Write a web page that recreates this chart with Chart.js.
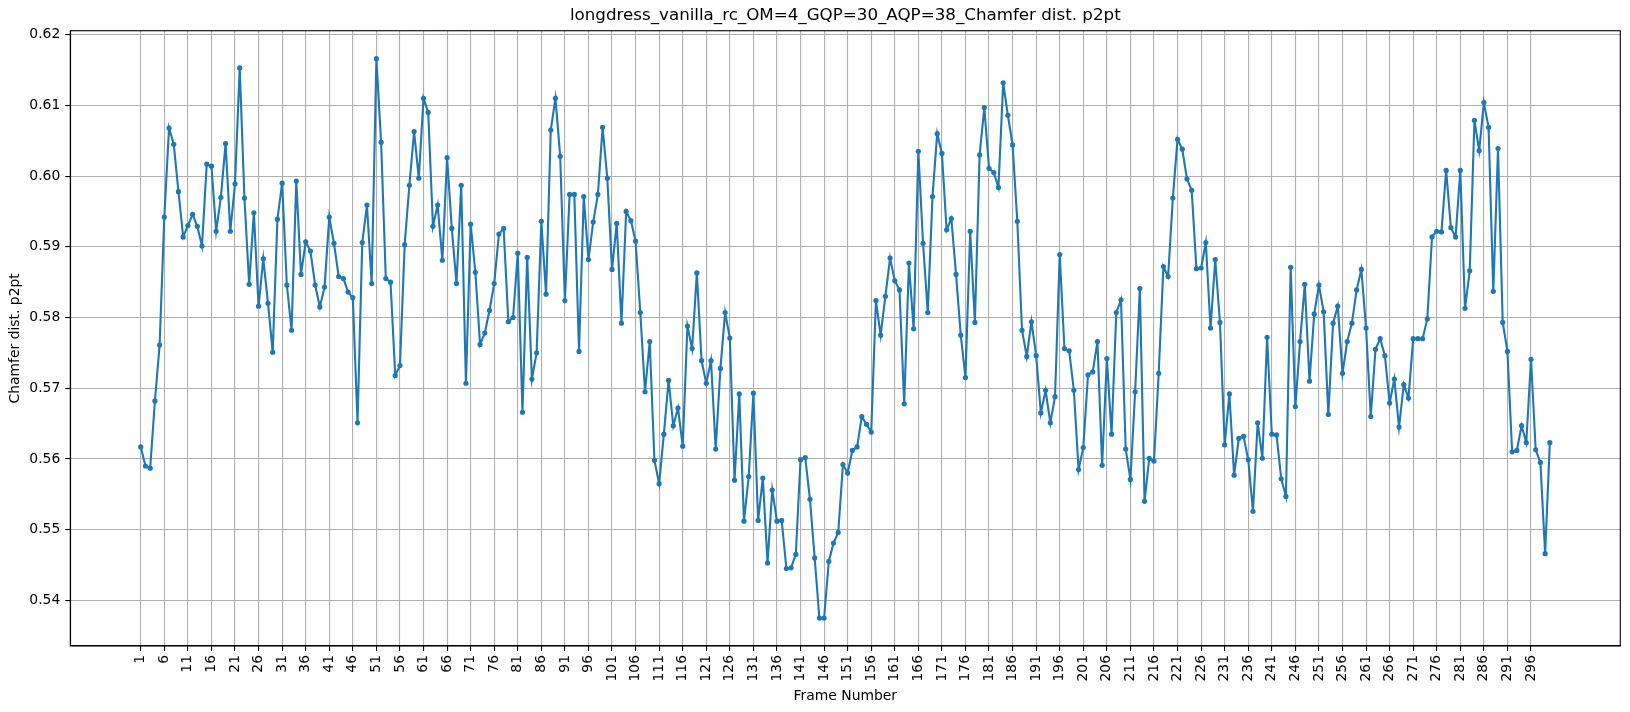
<!DOCTYPE html>
<html>
<head>
<meta charset="utf-8">
<script src="https://cdn.jsdelivr.net/npm/chart.js@4/dist/chart.umd.min.js"></script>
<style>
  html, body { margin: 0; padding: 0; background: #fff; }
  canvas { display: block; }
</style>
</head>
<body>
<canvas id="chamferChart" width="1630" height="712"></canvas>
<script>
// 値
const chartTitle = "longdress_vanilla_rc_OM=4_GQP=30_AQP=38_Chamfer dist. p2pt";

const chamferValues = [
  0.5617, 0.5590, 0.5587, 0.5682, 0.5761, 0.5942, 0.6068, 0.6045, 0.5978, 0.5914,
  0.5930, 0.5946, 0.5929, 0.5901, 0.6017, 0.6014, 0.5922, 0.5970, 0.6046, 0.5922,
  0.5989, 0.6153, 0.5969, 0.5847, 0.5948, 0.5816, 0.5883, 0.5820, 0.5751, 0.5939,
  0.5990, 0.5846, 0.5782, 0.5993, 0.5861, 0.5907, 0.5894, 0.5846, 0.5815, 0.5843,
  0.5942, 0.5905, 0.5858, 0.5855, 0.5836, 0.5828, 0.5651, 0.5906, 0.5959, 0.5848,
  0.6166, 0.6048, 0.5855, 0.5850, 0.5718, 0.5732, 0.5903, 0.5987, 0.6063, 0.5997,
  0.6110, 0.6090, 0.5929, 0.5959, 0.5881, 0.6026, 0.5926, 0.5848, 0.5987, 0.5707,
  0.5932, 0.5864, 0.5762, 0.5778, 0.5810, 0.5848, 0.5918, 0.5926, 0.5794, 0.5800,
  0.5891, 0.5666, 0.5885, 0.5713, 0.5750, 0.5936, 0.5833, 0.6065, 0.6110, 0.6028,
  0.5824, 0.5974, 0.5974, 0.5752, 0.5971, 0.5882, 0.5935, 0.5974, 0.6069, 0.5997,
  0.5868, 0.5933, 0.5792, 0.5950, 0.5937, 0.5908, 0.5807, 0.5695, 0.5766, 0.5598,
  0.5565, 0.5635, 0.5711, 0.5647, 0.5672, 0.5618, 0.5788, 0.5756, 0.5863, 0.5739,
  0.5707, 0.5739, 0.5614, 0.5728, 0.5807, 0.5771, 0.5570, 0.5692, 0.5512, 0.5575,
  0.5693, 0.5513, 0.5573, 0.5453, 0.5556, 0.5512, 0.5513, 0.5445, 0.5446, 0.5465,
  0.5599, 0.5602, 0.5543, 0.5460, 0.5375, 0.5375, 0.5455, 0.5481, 0.5496, 0.5592,
  0.5580, 0.5612, 0.5617, 0.5660, 0.5649, 0.5638, 0.5824, 0.5775, 0.5830, 0.5884,
  0.5852, 0.5839, 0.5678, 0.5877, 0.5784, 0.6035, 0.5905, 0.5807, 0.5971, 0.6060,
  0.6032, 0.5924, 0.5940, 0.5861, 0.5775, 0.5715, 0.5922, 0.5793, 0.6030, 0.6097,
  0.6011, 0.6005, 0.5984, 0.6132, 0.6086, 0.6044, 0.5936, 0.5782, 0.5745, 0.5794,
  0.5746, 0.5665, 0.5697, 0.5651, 0.5688, 0.5889, 0.5756, 0.5753, 0.5697, 0.5585,
  0.5616, 0.5719, 0.5723, 0.5766, 0.5591, 0.5742, 0.5635, 0.5807, 0.5825, 0.5614,
  0.5571, 0.5695, 0.5841, 0.5540, 0.5601, 0.5597, 0.5721, 0.5872, 0.5858, 0.5969,
  0.6052, 0.6038, 0.5996, 0.5980, 0.5869, 0.5870, 0.5906, 0.5785, 0.5882, 0.5793,
  0.5620, 0.5692, 0.5577, 0.5629, 0.5632, 0.5599, 0.5526, 0.5651, 0.5601, 0.5772,
  0.5635, 0.5634, 0.5572, 0.5547, 0.5871, 0.5674, 0.5766, 0.5847, 0.5710, 0.5805,
  0.5846, 0.5808, 0.5663, 0.5792, 0.5816, 0.5721, 0.5766, 0.5792, 0.5839, 0.5868,
  0.5785, 0.5660, 0.5755, 0.5770, 0.5746, 0.5679, 0.5713, 0.5645, 0.5705, 0.5686,
  0.5770, 0.5770, 0.5770, 0.5798, 0.5914, 0.5922, 0.5921, 0.6008, 0.5927, 0.5914,
  0.6008, 0.5813, 0.5866, 0.6079, 0.6036, 0.6104, 0.6069, 0.5837, 0.6039, 0.5793,
  0.5752, 0.5610, 0.5612, 0.5647, 0.5623, 0.5741, 0.5613, 0.5595, 0.5466, 0.5623
];

// フレーム番号 1..N
const frames = chamferValues.map((_, i) => i + 1);

const xTickLabels = [
  1, 6, 11, 16, 21, 26, 31, 36, 41, 46, 51, 56, 61, 66, 71, 76, 81, 86, 91, 96,
  101, 106, 111, 116, 121, 126, 131, 136, 141, 146, 151, 156, 161, 166, 171, 176,
  181, 186, 191, 196, 201, 206, 211, 216, 221, 226, 231, 236, 241, 246, 251, 256,
  261, 266, 271, 276, 281, 286, 291, 296
];

const yTickLabels = [0.54, 0.55, 0.56, 0.57, 0.58, 0.59, 0.60, 0.61, 0.62];

(function () {
  const ctx = document.getElementById("chamferChart");

  // matplotlib 風の 5% マージン
  const xSpan = frames[frames.length - 1] - frames[0];
  const yLo = Math.min(...chamferValues);
  const yHi = Math.max(...chamferValues);
  const ySpan = yHi - yLo;

  const font = { family: "'DejaVu Sans', sans-serif", size: 13.9 };

  // 上と右の枠線
  const frameBox = {
    id: "frameBox",
    afterDraw(chart) {
      const a = chart.chartArea;
      const c = chart.ctx;
      c.save();
      c.strokeStyle = "#000";
      c.lineWidth = 1.1;
      c.strokeRect(a.left, a.top, a.right - a.left, a.bottom - a.top);
      c.restore();
    }
  };

  Chart.defaults.color = "#000";

  new Chart(ctx, {
    type: "line",
    data: {
      datasets: [{
        label: "Chamfer dist. p2pt",
        data: frames.map((f, i) => ({ x: f, y: chamferValues[i] })),
        borderColor: "#1f77b4",
        backgroundColor: "#1f77b4",
        borderWidth: 2.1,
        pointRadius: 2.6,
        pointBorderWidth: 0,
        pointBackgroundColor: "#1f77b4",
        tension: 0,
        fill: false
      }]
    },
    options: {
      responsive: false,
      animation: false,
      layout: { padding: { left: 0, right: 9.7, top: 0, bottom: 0 } },
      scales: {
        x: {
          type: "linear",
          min: frames[0] - 0.05 * xSpan,
          max: frames[frames.length - 1] + 0.05 * xSpan,
          afterBuildTicks: (axis) => { axis.ticks = xTickLabels.map(v => ({ value: v })); },
          afterFit: (axis) => { axis.height = 66; },
          ticks: {
            autoSkip: false,
            minRotation: 90,
            maxRotation: 90,
            padding: 4,
            font: font,
            callback: (v) => String(v)
          },
          grid: { color: "#b0b0b0", lineWidth: 1.1, tickLength: 5, tickColor: "#000" },
          border: { color: "#000", width: 1.1 },
          title: {
            display: true,
            text: "Frame Number",
            font: font,
            padding: { top: 0, bottom: 7 }
          }
        },
        y: {
          type: "linear",
          min: yLo - 0.05 * ySpan,
          max: yHi + 0.05 * ySpan,
          afterBuildTicks: (axis) => { axis.ticks = yTickLabels.map(v => ({ value: v })); },
          afterFit: (axis) => { axis.width = 70.3; },
          ticks: {
            padding: 5,
            font: font,
            callback: (v) => Number(v).toFixed(2)
          },
          grid: { color: "#b0b0b0", lineWidth: 1.1, tickLength: 5, tickColor: "#000" },
          border: { color: "#000", width: 1.1 },
          title: {
            display: true,
            text: "Chamfer dist. p2pt",
            font: font,
            padding: { top: 7, bottom: 0 }
          }
        }
      },
      plugins: {
        legend: { display: false },
        tooltip: { enabled: false },
        title: {
          display: true,
          text: chartTitle,
          fullSize: false,
          color: "#000",
          font: { family: "'DejaVu Sans', sans-serif", size: 16.7, weight: "normal", lineHeight: 1.2 },
          padding: { top: 6, bottom: 4.7 }
        }
      }
    },
    plugins: [frameBox]
  });
})();
</script>
</body>
</html>
